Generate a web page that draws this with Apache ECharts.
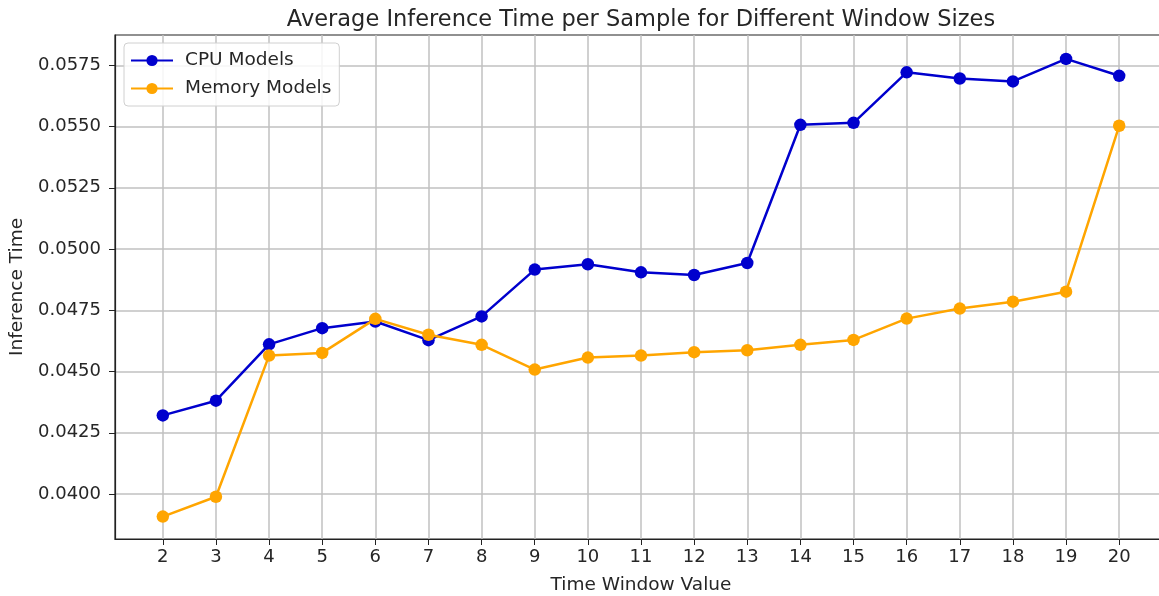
<!DOCTYPE html>
<html>
<head>
<meta charset="utf-8">
<script src="https://cdn.jsdelivr.net/npm/echarts@6/dist/echarts.min.js"></script>
<style>
  html, body { margin: 0; padding: 0; background: #fff; }
  #chart { width: 1159px; height: 596px; }
</style>
</head>
<body>
<div id="chart"></div>
<script>
var windowSizes = [2, 3, 4, 5, 6, 7, 8, 9, 10, 11, 12, 13, 14, 15, 16, 17, 18, 19, 20];
var cpuTimes = [0.04321, 0.04381, 0.04611, 0.04677, 0.04704, 0.04628, 0.04725, 0.04916, 0.04938, 0.04905,
                0.04894, 0.04943, 0.05507, 0.05515, 0.05721, 0.05696, 0.05684, 0.05776, 0.05707];
var memTimes = [0.03908, 0.03989, 0.04565, 0.04576, 0.04715, 0.04650, 0.04609, 0.04508, 0.04557, 0.04565,
                0.04579, 0.04587, 0.04609, 0.04629, 0.04716, 0.04757, 0.04785, 0.04826, 0.05503];
var yTicks = [0.0400, 0.0425, 0.0450, 0.0475, 0.0500, 0.0525, 0.0550, 0.0575];

var myChart = echarts.init(document.getElementById('chart'));

function pairs(vals) {
    return windowSizes.map(function (w, i) { return [w, vals[i]]; });
}

var font = 'DejaVu Sans';
var textColor = '#262626';

option = {
    backgroundColor: '#fff',
    animation: false,
    title: {
        text: 'Average Inference Time per Sample for Different Window Sizes',
        left: 636,
        textAlign: 'center',
        top: 4,
        textStyle: { fontFamily: font, fontSize: 22.5, fontWeight: 'normal', color: textColor }
    },
    legend: {
        orient: 'vertical',
        left: 124,
        top: 43,
        padding: [8, 8, 8, 6],
        itemGap: 9,
        itemWidth: 42,
        itemHeight: 14,
        backgroundColor: 'rgba(255,255,255,0.85)',
        borderColor: '#d0d0d0',
        borderWidth: 1,
        borderRadius: 4,
        textStyle: { fontFamily: font, fontSize: 18.5, color: textColor, lineHeight: 18, padding: [0, 0, 0, 7] },
        data: ['CPU Models', 'Memory Models']
    },
    grid: {
        show: true,
        left: 115,
        width: 1052,
        top: 35,
        bottom: 57,
        outerBoundsMode: 'none',
        containLabel: false,
        borderColor: '#222',
        borderWidth: 1.2
    },
    xAxis: {
        type: 'value',
        min: 1.1,
        max: 20.9,
        name: 'Time Window Value',
        nameLocation: 'middle',
        nameGap: 37,
        nameTextStyle: { fontFamily: font, fontSize: 18.5, color: textColor },
        axisLine: { lineStyle: { color: '#222', width: 1.2 } },
        axisTick: { show: true, length: 6, customValues: windowSizes, lineStyle: { color: '#222' } },
        axisLabel: { customValues: windowSizes, margin: 9, fontFamily: font, fontSize: 18, color: textColor },
        splitLine: { show: true, lineStyle: { color: '#c0c0c0', width: 1.5 } }
    },
    yAxis: {
        type: 'value',
        min: 0.038165,
        max: 0.058735,
        name: 'Inference Time',
        nameLocation: 'middle',
        nameGap: 88,
        nameTextStyle: { fontFamily: font, fontSize: 18.5, color: textColor },
        axisLine: { show: true, lineStyle: { color: '#222', width: 1.2 } },
        axisTick: { show: true, length: 6, customValues: yTicks, lineStyle: { color: '#222' } },
        axisLabel: {
            customValues: yTicks,
            margin: 14,
            fontFamily: font,
            fontSize: 18,
            color: textColor,
            formatter: function (v) { return v.toFixed(4); }
        },
        splitLine: { show: true, lineStyle: { color: '#c0c0c0', width: 1.5 } }
    },
    series: [
        {
            name: 'CPU Models',
            type: 'line',
            data: pairs(cpuTimes),
            symbol: 'circle',
            symbolSize: 12.5,
            color: '#0000CD',
            lineStyle: { width: 2.5 },
            z: 2
        },
        {
            name: 'Memory Models',
            type: 'line',
            data: pairs(memTimes),
            symbol: 'circle',
            symbolSize: 12.5,
            color: '#FFA500',
            lineStyle: { width: 2.5 },
            z: 3
        }
    ]
};
myChart.setOption(option);
</script>
</body>
</html>
